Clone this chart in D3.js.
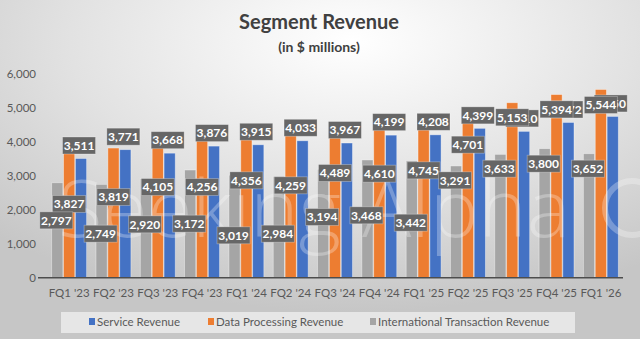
<!DOCTYPE html>
<html lang="en">
<head>
<meta charset="utf-8">
<title>Segment Revenue</title>
<script src="https://d3js.org/d3.v7.min.js"></script>
<style>
  html, body { margin: 0; padding: 0; background: #d8d8d8; }
  svg { display: block; }
  .tick text { font-family: Lato, "Open Sans", sans-serif; }
</style>
</head>
<body>
<div id="chart"></div>
<script>
  // quarters and segment revenue ($ millions)
  var quarters = ["FQ1 '23","FQ2 '23","FQ3 '23","FQ4 '23","FQ1 '24","FQ2 '24","FQ3 '24",
                  "FQ4 '24","FQ1 '25","FQ2 '25","FQ3 '25","FQ4 '25","FQ1 '26"];
  var serviceRev  = [3511, 3771, 3668, 3876, 3915, 4033, 3967, 4199, 4208, 4399, 4310, 4572, 4750];
  var dataProcRev = [3827, 3819, 4105, 4256, 4356, 4259, 4489, 4610, 4745, 4701, 5153, 5394, 5544];
  var intlRev     = [2797, 2749, 2920, 3172, 3019, 2984, 3194, 3468, 3442, 3291, 3633, 3800, 3652];
  var yTicks = [0, 1000, 2000, 3000, 4000, 5000, 6000];

  // where the data-processing / international labels sit (axis units); they were dragged by hand
  var dpLabelAt   = [2171, 2377, 2671, 2671, 2868, 2721, 3084, 3064, 3162, 3918, 4725, 4960, 5087];
  var intlLabelAt = [1690, 1296, 1572, 1591, 1249, 1296, 1788, 1838, 1620, 2868, 3211, 3358, 3211];

  var W = 640, H = 339;
  var series = [
    {key: "intl", name: "International Transaction Revenue", values: intlRev, color: "#a5a5a5"},
    {key: "dp",   name: "Data Processing Revenue",           values: dataProcRev, color: "#ed7d31"},
    {key: "svc",  name: "Service Revenue",                   values: serviceRev, color: "#4472c4"}
  ];

  var svg = d3.select("#chart").append("svg")
    .attr("width", W).attr("height", H);

  // soft radial background
  var defs = svg.append("defs");
  var grad = defs.append("radialGradient").attr("id", "bg")
    .attr("cx", "55%").attr("cy", "12%").attr("r", "80%");
  grad.append("stop").attr("offset", "0%").attr("stop-color", "#ffffff");
  grad.append("stop").attr("offset", "55%").attr("stop-color", "#e2e2e2");
  grad.append("stop").attr("offset", "100%").attr("stop-color", "#c6c6c6");
  svg.append("rect").attr("width", W).attr("height", H).attr("fill", "url(#bg)");

  // titles
  svg.append("text").attr("x", 319).attr("y", 29).attr("text-anchor", "middle")
    .style("font-family", "Lato, sans-serif").style("font-weight", 700).style("font-size", "20px")
    .attr("fill", "#404040").text("Segment Revenue");
  svg.append("text").attr("x", 319).attr("y", 52).attr("text-anchor", "middle")
    .style("font-family", "Lato, sans-serif").style("font-weight", 700).style("font-size", "14px")
    .attr("fill", "#404040").text("(in $ millions)");

  var x = d3.scaleBand().domain(quarters).range([47, 623]).paddingInner(0.18).paddingOuter(0.09);
  var xSeries = d3.scaleBand().domain(series.map(function(s){ return s.key; }))
    .range([0, x.bandwidth()]).padding(0.06);
  var y = d3.scaleLinear().domain([0, 6000]).range([277.7, 74]);

  // y axis labels only (no line, no gridlines)
  var yAxis = svg.append("g").attr("transform", "translate(36,0)")
    .call(d3.axisLeft(y).tickValues(yTicks).tickSize(0).tickPadding(0).tickFormat(d3.format(",")));
  yAxis.select(".domain").remove();
  yAxis.selectAll("text").attr("fill", "#595959").style("font-size", "11.5px");

  // bars
  series.forEach(function(s) {
    svg.append("g").selectAll("rect")
      .data(s.values)
      .join("rect")
        .attr("x", function(d, i){ return x(quarters[i]) + xSeries(s.key); })
        .attr("y", function(d){ return y(d); })
        .attr("width", xSeries.bandwidth())
        .attr("height", function(d){ return y(0) - y(d); })
        .attr("fill", s.color)
        .attr("stroke", "rgba(255,255,255,0.45)")
        .attr("stroke-width", 0.8);
  });

  // watermark
  svg.append("text").attr("x", 58).attr("y", 237)
    .attr("textLength", 512).attr("lengthAdjust", "spacingAndGlyphs")
    .style("font-family", "'Open Sans', sans-serif").style("font-weight", 300).style("font-size", "80px")
    .attr("fill", "#ffffff").attr("fill-opacity", 0.28).text("Seeking Alpha");
  svg.append("circle").attr("cx", 632).attr("cy", 208).attr("r", 27)
    .attr("fill", "none").attr("stroke", "#ffffff").attr("stroke-opacity", 0.28).attr("stroke-width", 6);

  // x axis
  var xAxis = svg.append("g").attr("transform", "translate(0," + y(0) + ")")
    .call(d3.axisBottom(x).tickSize(0).tickPadding(11));
  xAxis.select(".domain").attr("stroke", "#4d4d4d").attr("stroke-width", 1.6)
    .attr("d", "M38,0H623");
  xAxis.selectAll("text").attr("fill", "#595959").style("font-size", "11.5px");

  // data labels: grey boxes with white figures
  var fmt = d3.format(",");
  function drawLabels(s, shift, anchorOf) {
    var g = svg.append("g").selectAll("g")
      .data(s.values)
      .join("g")
        .attr("transform", function(d, i) {
          var cx = x(quarters[i]) + xSeries(s.key) + xSeries.bandwidth() / 2 + shift;
          return "translate(" + cx + "," + anchorOf(d, i) + ")";
        });
    g.append("rect")
      .attr("x", -16.5).attr("y", -8.5).attr("width", 33).attr("height", 17)
      .attr("fill", "#666666").attr("stroke", "rgba(255,255,255,0.35)").attr("stroke-width", 0.8);
    g.append("text")
      .attr("text-anchor", "middle").attr("dy", "0.36em")
      .style("font-family", "Lato, sans-serif").style("font-weight", 700).style("font-size", "12px")
      .attr("fill", "#ffffff")
      .text(function(d){ return fmt(d); });
  }
  drawLabels(series[2], -2, function(d){ return y(d) - 13; });
  drawLabels(series[1], 0, function(d, i){ return y(dpLabelAt[i]); });
  drawLabels(series[0], -1, function(d, i){ return y(intlLabelAt[i]); });

  // legend
  var legend = svg.append("g");
  legend.append("rect").attr("x", 61).attr("y", 312).attr("width", 514).attr("height", 21)
    .attr("fill", "#e6e6e6");
  var legendItems = [
    {s: series[2], x: 89},
    {s: series[1], x: 208},
    {s: series[0], x: 370}
  ];
  legendItems.forEach(function(it) {
    legend.append("rect").attr("x", it.x).attr("y", 318).attr("width", 6).attr("height", 7)
      .attr("fill", it.s.color);
    legend.append("text").attr("x", it.x + 8).attr("y", 322).attr("dy", "0.35em")
      .style("font-family", "Lato, sans-serif").style("font-size", "11.5px")
      .attr("fill", "#595959").text(it.s.name);
  });
</script>
</body>
</html>
